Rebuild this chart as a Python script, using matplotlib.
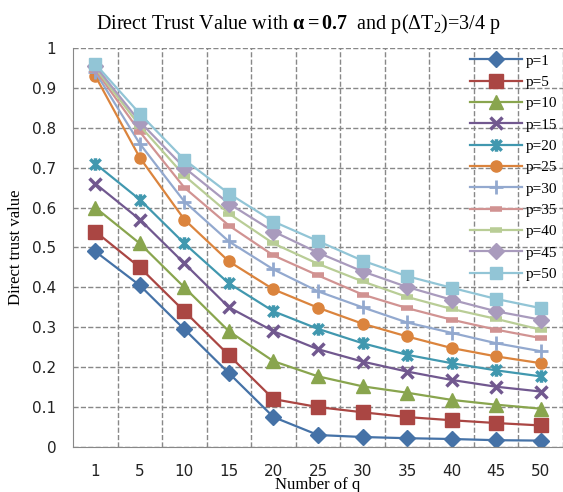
import numpy as np
import matplotlib
matplotlib.use("Agg")
import matplotlib.pyplot as plt
from matplotlib.path import Path

plt.rcParams['mathtext.fontset'] = 'custom'
plt.rcParams['mathtext.rm'] = 'Liberation Serif'
plt.rcParams['mathtext.it'] = 'Liberation Serif'
plt.rcParams['mathtext.bf'] = 'Liberation Serif:bold'

q_labels = ['1', '5', '10', '15', '20', '25', '30', '35', '40', '45', '50']

p1 = [0.49, 0.405, 0.295, 0.185, 0.075, 0.03, 0.025, 0.022, 0.02, 0.017, 0.016]
p5 = [0.54, 0.45, 0.34, 0.23, 0.12, 0.10, 0.087, 0.075, 0.067, 0.06, 0.054]
p10 = [0.60, 0.51, 0.40, 0.29, 0.215, 0.177, 0.152, 0.136, 0.118, 0.106, 0.096]
p15 = [0.66, 0.57, 0.46, 0.35, 0.29, 0.245, 0.214, 0.189, 0.168, 0.151, 0.139]
p20 = [0.71, 0.62, 0.51, 0.41, 0.34, 0.296, 0.26, 0.231, 0.21, 0.192, 0.177]
p25 = [0.93, 0.725, 0.57, 0.465, 0.395, 0.349, 0.309, 0.277, 0.248, 0.227, 0.21]
p30 = [0.94, 0.76, 0.615, 0.515, 0.445, 0.39, 0.35, 0.312, 0.286, 0.26, 0.24]
p35 = [0.945, 0.79, 0.65, 0.555, 0.48, 0.43, 0.382, 0.348, 0.319, 0.294, 0.273]
p40 = [0.95, 0.805, 0.68, 0.585, 0.51, 0.459, 0.415, 0.376, 0.346, 0.321, 0.294]
p45 = [0.955, 0.815, 0.70, 0.61, 0.54, 0.487, 0.44, 0.401, 0.369, 0.34, 0.319]
p50 = [0.96, 0.835, 0.72, 0.635, 0.565, 0.516, 0.467, 0.428, 0.399, 0.371, 0.348]

series = [p1, p5, p10, p15, p20, p25, p30, p35, p40, p45, p50]
names = ['p=1', 'p=5', 'p=10', 'p=15', 'p=20', 'p=25', 'p=30', 'p=35', 'p=40', 'p=45', 'p=50']

colors = ['#4572A7', '#AA4643', '#89A54E', '#71588F', '#4198AF', '#DB843D',
          '#93A9CF', '#D19392', '#B9CD96', '#A99BBD', '#92C5D6']

# excel "star" marker: an x with a vertical bar through it
star = Path([(-1, -1), (1, 1), (-1, 1), (1, -1), (0, -1.2), (0, 1.2)],
            [Path.MOVETO, Path.LINETO, Path.MOVETO, Path.LINETO, Path.MOVETO, Path.LINETO])

markers = ['D', 's', '^', 'x', star, 'o', '+', '_', '_', 'D', 's']
msizes = [8, 10, 10, 9, 9, 8, 10, 8, 8, 8, 9]
mews = [1, 1, 1, 2.5, 2.5, 1, 2, 4, 4, 1, 1]

fig = plt.figure(figsize=(5.63, 4.92), dpi=100)
ax = fig.add_axes([0.1297, 0.0915, 0.8703, 0.811])

x = np.arange(len(q_labels))
for vals, name, c, m, ms, mw in zip(series, names, colors, markers, msizes, mews):
    ax.plot(x, vals, color=c, lw=1.6, marker=m, markersize=ms,
            markeredgewidth=mw, markeredgecolor=c, markerfacecolor=c, label=name)

ax.set_xlim(-0.5, len(q_labels) - 0.5)
ax.set_ylim(0, 1)
ax.set_xticks(x)
ax.set_xticklabels(q_labels)
ax.set_xticks(np.arange(0.5, len(q_labels), 1), minor=True)
ax.set_yticks(np.arange(0, 1.01, 0.1))
ax.set_yticklabels(['0', '0.1', '0.2', '0.3', '0.4', '0.5', '0.6', '0.7', '0.8', '0.9', '1'])
ax.tick_params(axis='both', which='both', length=0, labelsize=11, colors='#222222')
ax.tick_params(axis='x', pad=12)
ax.tick_params(axis='y', pad=12)

ax.grid(True, axis='y', which='major', ls='--', color='#888888', lw=1)
ax.grid(True, axis='x', which='minor', ls='--', color='#888888', lw=1)
ax.set_axisbelow(True)
for s in ['top', 'right']:
    ax.spines[s].set_visible(False)
ax.spines['left'].set_color('#888888')
ax.spines['bottom'].set_color('#888888')

ax.set_title(r'Direct Trust Value with $\mathbf{\alpha{=}0.7}$  and p($\Delta$T$_2$)=3/4 p',
             fontfamily='Liberation Serif', fontsize=14.5, pad=14, x=0.46)
ax.set_xlabel('Number of q', fontfamily='Liberation Serif', fontsize=12, labelpad=-1)
ax.set_ylabel('Direct trust value', fontfamily='Liberation Serif', fontsize=12, labelpad=6)

ax.legend(loc='upper right', bbox_to_anchor=(1.0, 1.0), frameon=False,
          prop={'family': 'Liberation Serif', 'size': 11}, handlelength=3.4,
          handletextpad=0.2, labelspacing=0.5, borderaxespad=0.0)

fig.savefig('out.png', dpi=100)
